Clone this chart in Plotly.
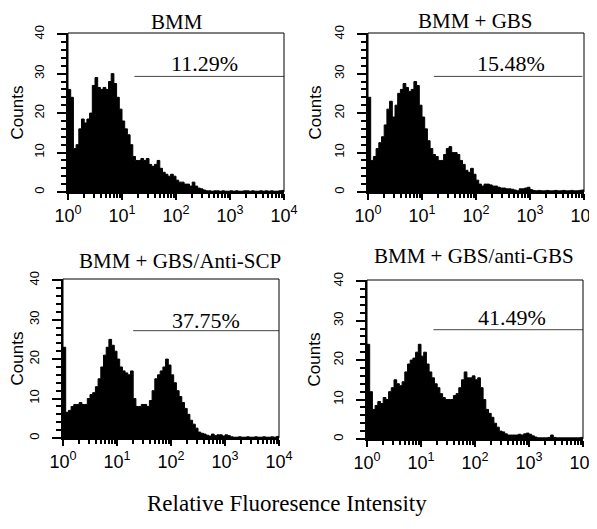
import numpy as np
import plotly.graph_objects as go

# Histogram channel grid: 80 bins over 4 decades (log10 units), 20 bins per decade
n_bins = 80
bin_edges_log = np.linspace(0, 4, n_bins + 1)

titles = ["BMM", "BMM + GBS", "BMM + GBS/Anti-SCP", "BMM + GBS/anti-GBS"]
percent_labels = ["11.29%", "15.48%", "37.75%", "41.49%"]

counts_bmm = [26, 24, 11, 12, 16, 18.5, 17.5, 18.5, 20, 27,
              29, 26.5, 26, 26.5, 26, 28, 30, 27.5, 24, 21,
              18, 16, 14.5, 12, 9, 8, 8, 8.5, 8, 8.5,
              7, 6.5, 7, 8, 6, 5, 4.5, 4, 4.5, 4,
              3, 2.5, 2.5, 2, 2, 1.5, 2.5, 1.5, 1, 0.8,
              0.5, 0.3, 0.3, 0.2, 0.3, 0.3, 0.2, 0.3, 0.2, 0.2,
              0.3, 0.2, 0.3, 0.2, 0.2, 0.3, 0.3, 0.2, 0.3, 0.2,
              0.2, 0.3, 0.2, 0.3, 0.2, 0.3, 0.2, 0.2, 0.3, 0.4]

counts_gbs = [24, 8, 9, 11, 12.5, 14, 17, 21, 23, 19,
              22, 25, 26, 27.5, 26.5, 25.5, 26, 28, 27, 22,
              19, 16, 13, 11, 9.5, 9, 8, 8, 9.5, 11,
              11.5, 10, 10, 9.5, 8, 7, 5.5, 5, 6, 4.5,
              3, 2, 1.5, 2, 2, 1.8, 1.5, 1.5, 1.2, 1,
              1, 0.8, 0.8, 0.7, 0.5, 0.3, 0.8, 0.8, 1, 1.2,
              0.6, 0.4, 0.3, 0.4, 0.3, 0.3, 0.4, 0.3, 0.3, 0.4,
              0.3, 0.3, 0.4, 0.3, 0.3, 0.4, 0.3, 0.3, 0.4, 0.5]

counts_anti_scp = [23, 6.5, 7, 8, 8.5, 8.5, 9, 8.5, 8.5, 10,
                   11, 11.5, 13, 15, 18, 21, 23, 25, 23.5, 22,
                   20, 18, 17, 16.5, 16, 17, 10, 8, 8, 8.5,
                   8.5, 8, 9.5, 12, 15, 16, 17, 18, 20, 18.5,
                   16, 14, 12, 10.5, 9, 7.5, 6, 4.5, 3.5, 2.5,
                   1.5, 1.2, 1, 0.7, 0.5, 1, 0.6, 0.8, 0.8, 0.5,
                   0.8, 0.6, 0.3, 0.2, 0.2, 0.3, 0.2, 0.2, 0.3, 0.2,
                   0.2, 0.3, 0.2, 0.2, 0.3, 0.2, 0.2, 0.3, 0.2, 0.4]

counts_anti_gbs = [24, 12, 7.5, 8.5, 9.5, 9, 10.5, 10, 12, 13,
                   15, 14, 13.5, 14.5, 17, 19, 20, 20.5, 22, 24,
                   21, 22, 19, 17, 15.5, 14, 13, 11.5, 10.5, 10,
                   10, 10, 11, 11.5, 13, 15, 17, 15.5, 15.5, 16,
                   15, 15.5, 13, 10, 7.5, 6.5, 5.5, 4, 3, 2,
                   1.8, 1.3, 1, 1, 1, 1, 1.2, 1, 1.3, 1.5,
                   1.2, 0.8, 0.5, 0.3, 0.3, 0.3, 0.3, 0.4, 1.0, 0.4,
                   0.3, 0.3, 0.3, 0.3, 0.3, 0.3, 0.3, 0.3, 0.3, 0.4]

all_counts = [counts_bmm, counts_gbs, counts_anti_scp, counts_anti_gbs]

# Gate marker: [start log10, end log10, count level]; percent label position [log10, count]
gate_start = [1.23, 1.22, 1.30, 1.23]
gate_end = [4.0, 3.97, 4.0, 4.0]
gate_level = [29.3, 29.3, 27.2, 27.7]
label_x = [2.52, 2.64, 2.65, 2.69]
label_y = [32.6, 32.6, 29.8, 30.9]

tick_vals = [1, 10, 100, 1000, 10000]
tick_text = ["10<sup>0</sup>", "10<sup>1</sup>", "10<sup>2</sup>", "10<sup>3</sup>", "10<sup>4</sup>"]

W, H = 597, 529
OFF = 8  # the page body offsets the figure by 8px; layout below is given in screen pixels
# panel pixel boxes (left, right, bottom, top) in screen pixels
boxes = [(68, 284, 192, 33), (368, 584, 192, 33), (63, 279, 438, 279), (367, 583, 439, 280)]
title_pos = [(177, 21.5), (475, 21), (180, 261), (474, 256)]


def fx(px):
    return (px - OFF) / W


def fy(py):
    return 1 - (py - OFF) / H


fig = go.Figure()
narrow = "Liberation Sans Narrow, Liberation Sans, Arial"
sans = "Liberation Sans, Arial"
serif = "Liberation Serif, Times New Roman, serif"

for k in range(4):
    xa = "x" if k == 0 else f"x{k+1}"
    ya = "y" if k == 0 else f"y{k+1}"
    edges = 10 ** bin_edges_log
    yv = list(all_counts[k]) + [all_counts[k][-1]]
    fig.add_trace(go.Scatter(x=edges, y=yv, mode="lines", line=dict(shape="hv", color="black", width=1),
                             fill="tozeroy", fillcolor="black", xaxis=xa, yaxis=ya, showlegend=False,
                             hoverinfo="skip"))
    fig.add_trace(go.Scatter(x=[10 ** gate_start[k], 10 ** gate_end[k]], y=[gate_level[k]] * 2, mode="lines",
                             line=dict(color="#444", width=1), xaxis=xa, yaxis=ya, showlegend=False))
    l, r, b, t = boxes[k]
    xkey = "xaxis" if k == 0 else f"xaxis{k+1}"
    ykey = "yaxis" if k == 0 else f"yaxis{k+1}"
    fig.layout[xkey] = dict(type="log", range=[0, 4], domain=[fx(l), fx(r)], anchor=ya, automargin=False,
                            showgrid=False, zeroline=False, showline=True, linecolor="black", linewidth=2,
                            ticks="outside", ticklen=6, tickwidth=1.5, tickcolor="black",
                            tickvals=tick_vals, ticktext=tick_text, ticklabeloverflow="allow",
                            tickfont=dict(family=narrow, size=18, color="black"),
                            minor=dict(ticks="outside", ticklen=4, tickcolor="black", dtick="D1"))
    fig.layout[ykey] = dict(range=[0, 40.3], domain=[fy(b), fy(t)], anchor=xa, automargin=False,
                            showgrid=False, zeroline=False, showline=True, linecolor="black", linewidth=2,
                            ticks="outside", ticklen=9, tickwidth=1.5, tickcolor="black",
                            tickvals=[0, 10, 20, 30, 40], tickangle=-90, ticklabelstandoff=8,
                            tickfont=dict(family=sans, size=13, color="black"),
                            minor=dict(ticks="outside", ticklen=5, tickcolor="black", dtick=2),
                            title=dict(text="Counts", font=dict(family=sans, size=17, color="black"), standoff=6))
    fig.add_shape(type="rect", xref=f"{xa} domain", yref=f"{ya} domain", x0=0, x1=1, y0=0, y1=1,
                  line=dict(color="black", width=1))
    fig.add_annotation(x=label_x[k], y=label_y[k], xref=xa, yref=ya, text=percent_labels[k], showarrow=False,
                       font=dict(family=serif, size=22, color="black"))
    tx, ty = title_pos[k]
    fig.add_annotation(x=fx(tx), y=fy(ty), xref="paper", yref="paper", text=titles[k], showarrow=False,
                       borderpad=0, font=dict(family=serif, size=21, color="black"),
                       xanchor="center", yanchor="middle")

fig.add_annotation(x=fx(287), y=fy(503), xref="paper", yref="paper", text="Relative Fluoresence Intensity",
                   showarrow=False, font=dict(family=serif, size=23, color="black"),
                   xanchor="center", yanchor="middle")

fig.update_layout(width=W, height=H, margin=dict(l=0, r=0, t=0, b=0),
                  paper_bgcolor="white", plot_bgcolor="white")
fig.write_html("out.html")
